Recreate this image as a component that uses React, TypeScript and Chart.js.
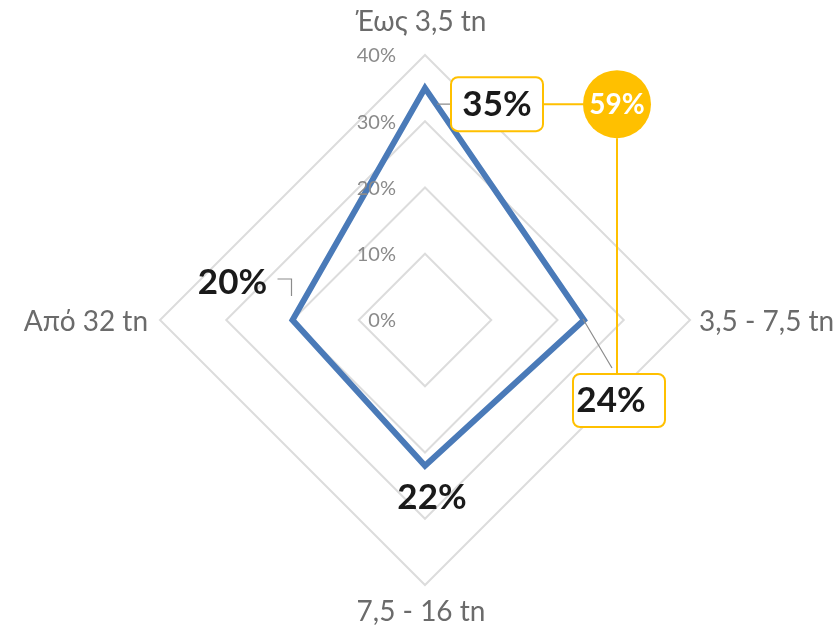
import React, { useEffect, useRef } from "react";
import { Chart, registerables } from "chart.js";

Chart.register(...registerables);

const categories = ["Έως 3,5 tn", "3,5 - 7,5 tn", "7,5 - 16 tn", "Από 32 tn"];
const values = [35, 24, 22, 20];
const tickValues = [0, 10, 20, 30, 40];
const highlightIdx = [0, 1];

const FONT = "Lato, 'Open Sans', sans-serif";
const ORANGE = "#ffc000";

function roundRect(ctx: CanvasRenderingContext2D, x: number, y: number, w: number, h: number, r: number) {
  ctx.beginPath();
  ctx.moveTo(x + r, y);
  ctx.lineTo(x + w - r, y);
  ctx.arcTo(x + w, y, x + w, y + r, r);
  ctx.lineTo(x + w, y + h - r);
  ctx.arcTo(x + w, y + h, x + w - r, y + h, r);
  ctx.lineTo(x + r, y + h);
  ctx.arcTo(x, y + h, x, y + h - r, r);
  ctx.lineTo(x, y + r);
  ctx.arcTo(x, y, x + r, y, r);
  ctx.closePath();
}

const overlayPlugin = {
  id: "overlay",
  afterDatasetsDraw(chart: any) {
    const ctx: CanvasRenderingContext2D = chart.ctx;
    const scale = chart.scales.r;
    const cx = scale.xCenter;
    const cy = scale.yCenter;
    ctx.save();

    // tick labels
    ctx.font = `20px ${FONT}`;
    ctx.fillStyle = "#8a8a8a";
    ctx.textAlign = "right";
    ctx.textBaseline = "middle";
    tickValues.forEach((v) => {
      const d = scale.getDistanceFromCenterForValue(v);
      ctx.fillText(v + "%", cx - 29, cy - d + 1);
    });

    // category labels
    ctx.font = `28px ${FONT}`;
    ctx.fillStyle = "#6b6b6b";
    const rOuter = scale.getDistanceFromCenterForValue(40);
    const p0 = scale.getPointPosition(0, rOuter);
    ctx.textAlign = "center";
    ctx.fillText(categories[0], p0.x - 4, p0.y - 33);
    const p1 = scale.getPointPosition(1, rOuter);
    ctx.textAlign = "left";
    ctx.fillText(categories[1], p1.x + 9, p1.y + 2);
    const p2 = scale.getPointPosition(2, rOuter);
    ctx.textAlign = "center";
    ctx.fillText(categories[2], p2.x - 4, p2.y + 27);
    const p3 = scale.getPointPosition(3, rOuter);
    ctx.textAlign = "right";
    ctx.fillText(categories[3], p3.x - 12, p3.y + 2);

    const pts = chart.getDatasetMeta(0).data;
    const a = pts[0], b = pts[1], c = pts[2], d = pts[3];

    // leader lines (gray)
    ctx.strokeStyle = "#8c8c8c";
    ctx.lineWidth = 1.2;
    ctx.beginPath();
    ctx.moveTo(a.x + 12, a.y + 16);
    ctx.lineTo(a.x + 26, a.y + 16);
    ctx.moveTo(b.x - 1, b.y - 1);
    ctx.lineTo(b.x + 28, b.y + 48);
    ctx.moveTo(d.x - 15, d.y - 41);
    ctx.lineTo(d.x - 1, d.y - 41);
    ctx.lineTo(d.x - 1, d.y - 24);
    ctx.stroke();

    // orange connectors
    const circX = a.x + 192;
    const circY = a.y + 16;
    const circR = 34;
    ctx.strokeStyle = ORANGE;
    ctx.lineWidth = 2;
    ctx.beginPath();
    ctx.moveTo(a.x + 118, circY);
    ctx.lineTo(circX - circR, circY);
    ctx.moveTo(circX, circY + circR);
    ctx.lineTo(circX, b.y + 54);
    ctx.stroke();

    // boxes
    const drawBox = (x: number, y: number, w: number, h: number) => {
      roundRect(ctx, x, y, w, h, 7);
      ctx.fillStyle = "#ffffff";
      ctx.fill();
      ctx.strokeStyle = ORANGE;
      ctx.lineWidth = 2;
      ctx.stroke();
    };
    drawBox(a.x + 26, a.y - 11, 92, 54);
    drawBox(b.x - 11, b.y + 54, 92, 53);

    // value labels
    ctx.font = `bold 35px ${FONT}`;
    ctx.fillStyle = "#1a1a1a";
    ctx.textAlign = "center";
    ctx.textBaseline = "middle";
    ctx.fillText(values[0] + "%", a.x + 72, a.y + 17);
    ctx.fillText(values[1] + "%", b.x + 27, b.y + 81);
    ctx.fillText(values[2] + "%", c.x + 7, c.y + 32);
    ctx.fillText(values[3] + "%", d.x - 60, d.y - 37);

    // circle
    ctx.beginPath();
    ctx.arc(circX, circY, circR, 0, Math.PI * 2);
    ctx.fillStyle = ORANGE;
    ctx.fill();
    const sum = highlightIdx.reduce((s, i) => s + values[i], 0);
    ctx.font = `bold 28px ${FONT}`;
    ctx.fillStyle = "#ffffff";
    ctx.fillText(sum + "%", circX, circY + 1);

    ctx.restore();
  },
};

export default function App() {
  const ref = useRef<HTMLCanvasElement | null>(null);
  useEffect(() => {
    if (!ref.current) return;
    const chart = new Chart(ref.current, {
      type: "radar",
      data: {
        labels: categories,
        datasets: [
          {
            data: values,
            borderColor: "#4a7ab8",
            borderWidth: 6,
            borderJoinStyle: "miter",
            fill: false,
            pointRadius: 0,
            pointHoverRadius: 0,
          },
        ],
      },
      options: {
        animation: false,
        responsive: false,
        maintainAspectRatio: false,
        layout: { padding: { left: 160, right: 150, top: 55, bottom: 44 } },
        plugins: { legend: { display: false }, tooltip: { enabled: false } },
        scales: {
          r: {
            min: 0,
            max: 40,
            ticks: { display: false, stepSize: 10 },
            angleLines: { display: false },
            grid: { color: "#dcdcdc", lineWidth: 2 },
            pointLabels: { display: false },
          },
        },
      },
      plugins: [overlayPlugin],
    });
    return () => chart.destroy();
  }, []);
  return (
    <div style={{ position: "fixed", left: 0, top: 0, width: 840, height: 629, background: "#fff" }}>
      <canvas ref={ref} width={840} height={629} style={{ width: 840, height: 629 }} />
    </div>
  );
}
